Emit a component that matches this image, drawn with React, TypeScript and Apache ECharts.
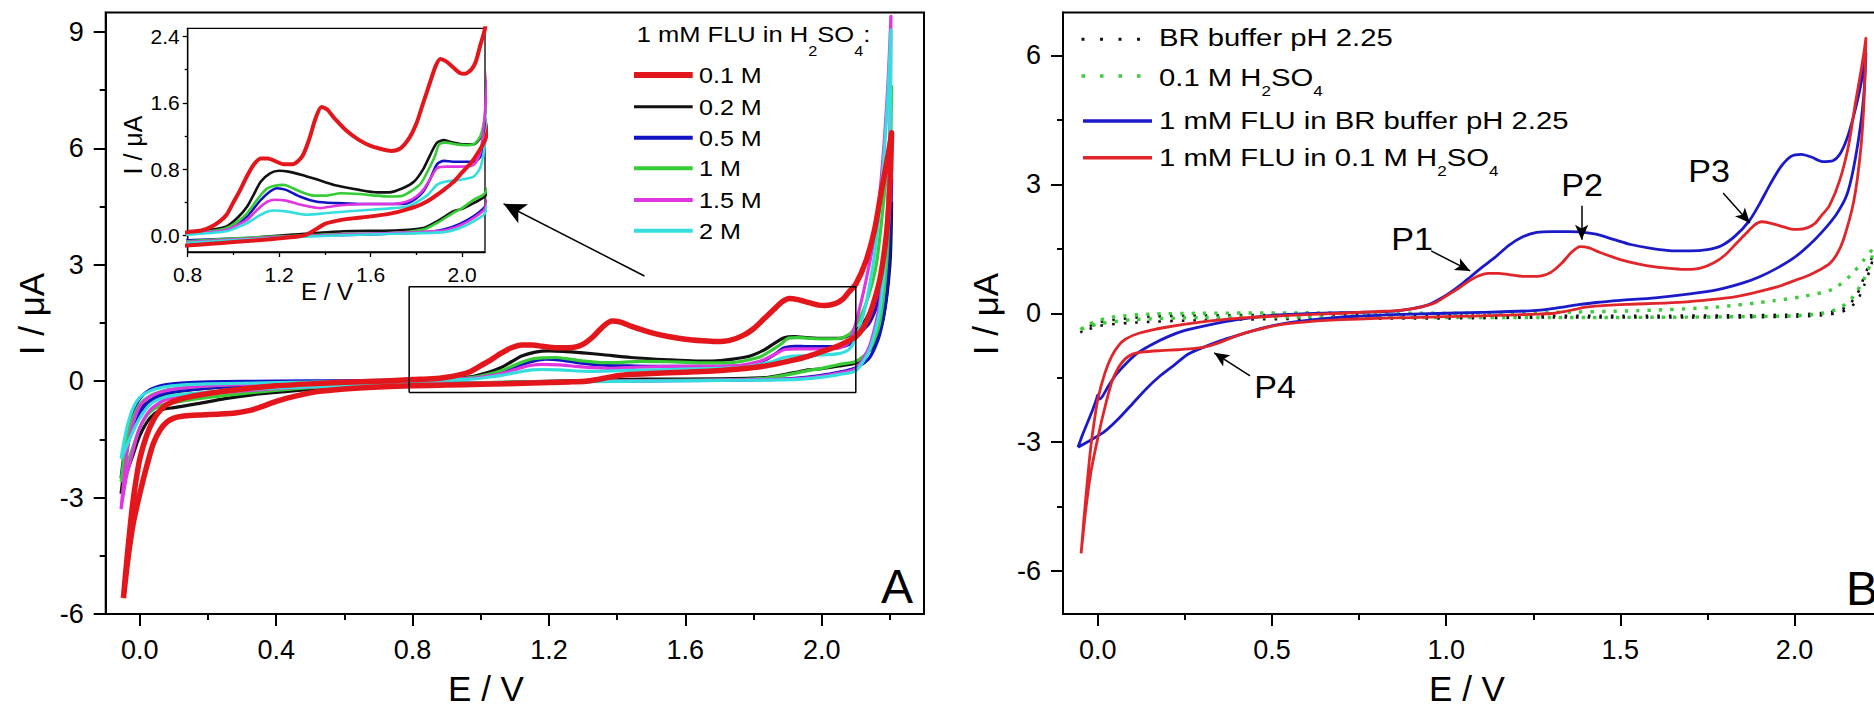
import React, { useEffect, useRef } from "react";
import * as echarts from "echarts";

const FONT = "'Liberation Sans', Arial, Helvetica, sans-serif";

// ---------- tick values ----------
const A_X_MAJOR = [0, 0.4, 0.8, 1.2, 1.6, 2.0];
const A_X_MINOR = [0.2, 0.6, 1.0, 1.4, 1.8, 2.2];
const A_Y_MAJOR = [-6, -3, 0, 3, 6, 9];
const A_Y_MINOR = [-4.5, -1.5, 1.5, 4.5, 7.5];
const IN_X_MAJOR = [0.8, 1.2, 1.6, 2.0];
const IN_X_MINOR = [1.0, 1.4, 1.8];
const IN_Y_MAJOR = [0, 0.8, 1.6, 2.4];
const IN_Y_MINOR = [0.4, 1.2, 2.0];
const B_X_MAJOR = [0, 0.5, 1.0, 1.5, 2.0];
const B_X_MINOR = [0.25, 0.75, 1.25, 1.75, 2.25];
const B_Y_MAJOR = [-6, -3, 0, 3, 6];
const B_Y_MINOR = [-4.5, -1.5, 1.5, 4.5];

// ---------- panel A : 1 mM FLU in H2SO4 of various concentrations ----------
const CONC_LABELS = ["0.1 M", "0.2 M", "0.5 M", "1 M", "1.5 M", "2 M"];
const CONC_COLORS = ["#e3161c", "#111111", "#1212c4", "#35cc35", "#e035e0", "#35dede"];

// 0.1 M (also "1 mM FLU in 0.1 M H2SO4" of panel B)
const RED_FWD = [
  [-0.048, -5.59], [-0.04, -4.8], [-0.03, -3.9], [-0.02, -3.1], [-0.01, -2.5], [0.0, -2.0], [0.02, -1.4],
  [0.04, -1.0], [0.06, -0.75], [0.08, -0.6], [0.12, -0.46], [0.2, -0.32], [0.3, -0.2], [0.4, -0.12],
  [0.5, -0.07], [0.6, -0.03], [0.7, 0.0], [0.8, 0.04], [0.86, 0.06], [0.9, 0.1], [0.94, 0.17], [0.97, 0.25],
  [1.0, 0.4], [1.03, 0.55], [1.06, 0.72], [1.09, 0.86], [1.12, 0.93], [1.15, 0.93], [1.18, 0.9], [1.22, 0.86],
  [1.26, 0.86], [1.3, 0.95], [1.33, 1.15], [1.36, 1.42], [1.385, 1.55], [1.41, 1.52], [1.44, 1.42],
  [1.5, 1.25], [1.55, 1.15], [1.6, 1.08], [1.65, 1.04], [1.69, 1.02], [1.73, 1.05], [1.77, 1.18],
  [1.8, 1.35], [1.83, 1.6], [1.86, 1.85], [1.885, 2.05], [1.905, 2.13], [1.93, 2.1], [1.96, 2.03],
  [1.99, 1.96], [2.01, 1.95], [2.04, 2.0], [2.06, 2.1], [2.08, 2.3], [2.1, 2.5], [2.13, 3.1],
  [2.155, 3.9], [2.175, 4.9], [2.19, 5.6], [2.2, 6.1], [2.205, 6.4],
];
const RED_REV = [
  [2.2, 5.0], [2.19, 3.8], [2.17, 2.6], [2.14, 1.7], [2.12, 1.35], [2.1, 1.15], [2.07, 1.0], [2.04, 0.88],
  [2.0, 0.76], [1.96, 0.64], [1.92, 0.55], [1.88, 0.47], [1.84, 0.4], [1.8, 0.35], [1.74, 0.3], [1.68, 0.26],
  [1.6, 0.23], [1.5, 0.2], [1.44, 0.17], [1.4, 0.14], [1.37, 0.09], [1.34, 0.04], [1.31, 0.0], [1.26, -0.02],
  [1.15, -0.05], [1.0, -0.08], [0.9, -0.1], [0.8, -0.12], [0.7, -0.15], [0.6, -0.2], [0.52, -0.27],
  [0.45, -0.4], [0.4, -0.52], [0.36, -0.65], [0.32, -0.76], [0.28, -0.82], [0.23, -0.85], [0.18, -0.87],
  [0.13, -0.9], [0.1, -0.95], [0.08, -1.05], [0.06, -1.25], [0.04, -1.6], [0.02, -2.2], [0.0, -2.9],
  [-0.02, -3.7], [-0.035, -4.6], [-0.048, -5.59],
];

// 0.2 M
const BLACK_FWD = [
  [-0.055, -2.9], [-0.045, -2.2], [-0.035, -1.6], [-0.02, -1.1], [0.0, -0.75], [0.03, -0.5], [0.07, -0.35],
  [0.12, -0.26], [0.2, -0.18], [0.35, -0.1], [0.5, -0.06], [0.65, -0.03], [0.8, 0.04], [0.9, 0.07],
  [0.97, 0.11], [1.02, 0.22], [1.06, 0.35], [1.09, 0.5], [1.12, 0.65], [1.16, 0.75], [1.2, 0.78],
  [1.24, 0.77], [1.3, 0.73], [1.36, 0.68], [1.44, 0.61], [1.55, 0.55], [1.63, 0.52], [1.68, 0.52],
  [1.74, 0.57], [1.79, 0.65], [1.83, 0.8], [1.86, 0.97], [1.89, 1.12], [1.92, 1.15], [1.96, 1.12],
  [2.0, 1.1], [2.05, 1.1], [2.08, 1.18], [2.1, 1.3], [2.13, 1.6], [2.16, 2.2], [2.18, 3.0], [2.2, 4.0],
  [2.205, 4.6],
];
const BLACK_REV = [
  [2.2, 3.0], [2.18, 1.6], [2.15, 0.9], [2.12, 0.6], [2.1, 0.47], [2.05, 0.39], [2.0, 0.32], [1.96, 0.29],
  [1.92, 0.22], [1.89, 0.17], [1.83, 0.09], [1.7, 0.06], [1.48, 0.05], [1.26, 0.01], [1.12, -0.02],
  [0.97, -0.06], [0.8, -0.09], [0.6, -0.15], [0.45, -0.25], [0.35, -0.33], [0.25, -0.45], [0.17, -0.58],
  [0.1, -0.68], [0.06, -0.75], [0.03, -0.95], [0.0, -1.4], [-0.02, -1.9], [-0.04, -2.4], [-0.055, -2.9],
];

// 0.5 M
const BLUE_FWD = [
  [-0.055, -2.5], [-0.045, -1.8], [-0.035, -1.3], [-0.02, -0.8], [0.0, -0.45], [0.03, -0.22], [0.07, -0.1],
  [0.12, -0.05], [0.2, -0.02], [0.4, 0.0], [0.6, 0.01], [0.8, 0.03], [0.9, 0.05], [0.97, 0.08],
  [1.02, 0.15], [1.06, 0.23], [1.09, 0.33], [1.12, 0.43], [1.16, 0.53], [1.19, 0.57], [1.23, 0.55],
  [1.29, 0.47], [1.36, 0.41], [1.45, 0.39], [1.55, 0.38], [1.7, 0.38], [1.76, 0.39], [1.8, 0.45],
  [1.83, 0.53], [1.86, 0.68], [1.89, 0.86], [1.92, 0.9], [1.96, 0.89], [2.0, 0.89], [2.05, 0.89],
  [2.08, 0.95], [2.1, 1.15], [2.14, 1.5], [2.17, 2.2], [2.19, 3.2], [2.2, 4.2], [2.205, 5.2],
];
const BLUE_REV = [
  [2.2, 3.5], [2.19, 2.2], [2.17, 1.2], [2.14, 0.6], [2.1, 0.35], [2.05, 0.23], [1.99, 0.14], [1.92, 0.07],
  [1.85, 0.04], [1.55, 0.01], [1.26, -0.01], [0.8, -0.06], [0.6, -0.08], [0.4, -0.1], [0.25, -0.15],
  [0.15, -0.22], [0.08, -0.3], [0.04, -0.45], [0.0, -0.8], [-0.02, -1.2], [-0.04, -1.8], [-0.055, -2.5],
];

// 1 M
const GREEN_FWD = [
  [-0.055, -2.6], [-0.045, -1.9], [-0.035, -1.4], [-0.02, -0.95], [0.0, -0.6], [0.03, -0.38], [0.07, -0.25],
  [0.12, -0.18], [0.2, -0.12], [0.35, -0.07], [0.5, -0.04], [0.65, -0.01], [0.8, 0.03], [0.9, 0.05],
  [0.97, 0.09], [1.02, 0.17], [1.06, 0.27], [1.09, 0.38], [1.12, 0.49], [1.15, 0.57], [1.18, 0.6],
  [1.22, 0.61], [1.26, 0.57], [1.3, 0.52], [1.35, 0.48], [1.4, 0.48], [1.47, 0.51], [1.55, 0.5],
  [1.62, 0.48], [1.68, 0.47], [1.74, 0.48], [1.78, 0.54], [1.82, 0.63], [1.85, 0.78], [1.88, 0.95],
  [1.9, 1.1], [1.93, 1.12], [1.97, 1.1], [2.01, 1.09], [2.05, 1.1], [2.08, 1.2], [2.1, 1.43],
  [2.13, 2.0], [2.16, 3.0], [2.18, 4.5], [2.2, 6.3], [2.205, 7.6],
];
const GREEN_REV = [
  [2.2, 5.0], [2.19, 3.0], [2.17, 1.5], [2.14, 0.8], [2.1, 0.51], [2.05, 0.43], [2.0, 0.33], [1.96, 0.27],
  [1.89, 0.15], [1.83, 0.07], [1.7, 0.03], [1.41, 0.01], [1.12, -0.02], [0.8, -0.07], [0.6, -0.12],
  [0.45, -0.2], [0.3, -0.32], [0.2, -0.42], [0.12, -0.52], [0.07, -0.6], [0.03, -0.8], [0.0, -1.2],
  [-0.02, -1.7], [-0.04, -2.2], [-0.055, -2.6],
];

// 1.5 M
const MAG_FWD = [
  [-0.055, -3.3], [-0.045, -2.4], [-0.035, -1.7], [-0.02, -1.1], [0.0, -0.65], [0.03, -0.4], [0.07, -0.26],
  [0.12, -0.18], [0.2, -0.12], [0.35, -0.07], [0.5, -0.04], [0.65, -0.01], [0.8, 0.02], [0.9, 0.04],
  [0.97, 0.07], [1.02, 0.13], [1.06, 0.19], [1.09, 0.27], [1.12, 0.35], [1.15, 0.41], [1.18, 0.43],
  [1.23, 0.42], [1.28, 0.38], [1.33, 0.35], [1.38, 0.33], [1.43, 0.35], [1.5, 0.37], [1.58, 0.38],
  [1.7, 0.38], [1.76, 0.41], [1.8, 0.47], [1.83, 0.55], [1.86, 0.68], [1.89, 0.81], [1.93, 0.83],
  [1.99, 0.83], [2.05, 0.85], [2.08, 1.0], [2.1, 1.5], [2.13, 2.6], [2.16, 4.0], [2.18, 5.8],
  [2.195, 7.8], [2.203, 9.4],
];
const MAG_REV = [
  [2.2, 6.5], [2.19, 4.0], [2.17, 2.0], [2.14, 0.9], [2.1, 0.33], [2.05, 0.21], [1.99, 0.12], [1.92, 0.06],
  [1.7, 0.03], [1.26, -0.01], [0.8, -0.08], [0.6, -0.12], [0.45, -0.17], [0.3, -0.25], [0.2, -0.32],
  [0.12, -0.4], [0.07, -0.5], [0.03, -0.75], [0.0, -1.2], [-0.02, -1.8], [-0.04, -2.5], [-0.055, -3.3],
];

// 2 M
const CYAN_FWD = [
  [-0.055, -2.0], [-0.045, -1.5], [-0.035, -1.1], [-0.02, -0.7], [0.0, -0.42], [0.03, -0.25], [0.07, -0.15],
  [0.12, -0.1], [0.2, -0.07], [0.4, -0.04], [0.6, -0.01], [0.8, 0.01], [0.9, 0.03], [0.97, 0.05],
  [1.02, 0.1], [1.06, 0.15], [1.09, 0.2], [1.12, 0.25], [1.15, 0.29], [1.18, 0.3], [1.23, 0.29],
  [1.32, 0.25], [1.41, 0.27], [1.55, 0.3], [1.7, 0.33], [1.76, 0.35], [1.8, 0.4], [1.85, 0.49],
  [1.89, 0.61], [1.93, 0.65], [1.99, 0.67], [2.05, 0.71], [2.08, 0.82], [2.1, 1.11], [2.13, 2.0],
  [2.16, 3.6], [2.18, 5.5], [2.195, 7.5], [2.203, 9.05],
];
const CYAN_REV = [
  [2.2, 6.0], [2.19, 3.6], [2.17, 1.8], [2.14, 0.8], [2.1, 0.27], [2.05, 0.17], [1.99, 0.09], [1.92, 0.04],
  [1.7, 0.02], [1.26, -0.02], [0.8, -0.09], [0.6, -0.12], [0.45, -0.16], [0.3, -0.22], [0.2, -0.28],
  [0.12, -0.34], [0.07, -0.42], [0.03, -0.6], [0.0, -0.95], [-0.02, -1.3], [-0.04, -1.7], [-0.055, -2.0],
];

// zoom frame of panel A
const ZOOM_RECT = [[0.79, -0.29], [2.1, -0.29], [2.1, 2.43], [0.79, 2.43], [0.79, -0.29]];
const ARROW_A = [[1.48, 2.71], [1.067, 4.57]];

// ---------- panel B ----------
const B_LABELS = ["BR buffer pH 2.25", "0.1 M H2SO4", "1 mM FLU in BR buffer pH 2.25", "1 mM FLU in 0.1 M H2SO4"];
const B_COLORS = ["#111111", "#3dcc3d", "#1a1ac8", "#e0262a"];

const BR_FWD = [
  [-0.05, -0.45], [-0.03, -0.33], [0.0, -0.22], [0.05, -0.15], [0.15, -0.08], [0.3, -0.05], [0.6, -0.04],
  [1.0, -0.05], [1.5, -0.06], [1.8, -0.05], [2.0, -0.03], [2.1, 0.02], [2.15, 0.15], [2.18, 0.45],
  [2.2, 0.85], [2.225, 1.35],
];
const BR_REV = [
  [2.22, 1.1], [2.2, 0.65], [2.18, 0.3], [2.15, 0.08], [2.1, -0.03], [2.0, -0.08], [1.7, -0.1], [1.3, -0.1],
  [1.0, -0.12], [0.6, -0.13], [0.3, -0.16], [0.1, -0.22], [0.0, -0.3], [-0.05, -0.45],
];
const H2SO4_FWD = [
  [-0.05, -0.38], [-0.03, -0.27], [0.0, -0.17], [0.05, -0.08], [0.15, -0.02], [0.3, 0.0], [0.6, 0.01],
  [1.0, 0.0], [1.3, 0.02], [1.55, 0.06], [1.77, 0.14], [1.94, 0.29], [2.03, 0.4], [2.11, 0.56],
  [2.16, 0.87], [2.2, 1.25], [2.225, 1.5],
];
const H2SO4_REV = [
  [2.22, 1.2], [2.2, 0.8], [2.17, 0.4], [2.13, 0.12], [2.08, 0.0], [2.0, -0.06], [1.7, -0.09], [1.3, -0.1],
  [1.0, -0.1], [0.6, -0.09], [0.3, -0.1], [0.1, -0.15], [0.0, -0.25], [-0.05, -0.38],
];
const FLU_BR_FWD = [
  [-0.057, -3.12], [-0.045, -2.85], [-0.03, -2.55], [-0.015, -2.25], [-0.004, -2.0], [0.0, -1.9],
  [0.004, -2.0], [0.012, -1.95], [0.03, -1.7], [0.05, -1.45], [0.08, -1.18], [0.11, -0.95], [0.15, -0.75],
  [0.2, -0.55], [0.25, -0.4], [0.32, -0.27], [0.4, -0.15], [0.5, -0.05], [0.6, -0.01], [0.74, 0.02],
  [0.85, 0.05], [0.9, 0.1], [0.95, 0.2], [1.0, 0.42], [1.04, 0.65], [1.07, 0.85], [1.1, 1.05], [1.14, 1.3],
  [1.18, 1.58], [1.22, 1.78], [1.26, 1.88], [1.3, 1.9], [1.35, 1.9], [1.39, 1.89], [1.43, 1.84],
  [1.48, 1.72], [1.53, 1.6], [1.58, 1.52], [1.64, 1.46], [1.7, 1.45], [1.75, 1.48], [1.79, 1.57],
  [1.83, 1.8], [1.87, 2.15], [1.9, 2.55], [1.93, 3.0], [1.96, 3.4], [1.99, 3.65], [2.02, 3.7], [2.05, 3.63],
  [2.08, 3.53], [2.11, 3.55], [2.13, 3.7], [2.15, 4.05], [2.17, 4.6], [2.19, 5.3], [2.205, 6.05],
];
const FLU_BR_REV = [
  [2.2, 5.2], [2.19, 4.4], [2.17, 3.4], [2.15, 2.75], [2.12, 2.3], [2.08, 1.9], [2.04, 1.57], [2.0, 1.3],
  [1.95, 1.05], [1.9, 0.85], [1.85, 0.7], [1.78, 0.55], [1.7, 0.45], [1.6, 0.36], [1.5, 0.3], [1.43, 0.25],
  [1.38, 0.2], [1.34, 0.15], [1.3, 0.1], [1.25, 0.06], [1.1, 0.02], [0.9, -0.02], [0.74, -0.07],
  [0.62, -0.15], [0.55, -0.22], [0.48, -0.33], [0.42, -0.47], [0.36, -0.62], [0.31, -0.77], [0.26, -0.95],
  [0.22, -1.2], [0.18, -1.45], [0.14, -1.75], [0.1, -2.1], [0.06, -2.45], [0.02, -2.75], [-0.02, -2.95],
  [-0.057, -3.12],
];

const PEAK_LABELS = ["P1", "P2", "P3", "P4"];
const PEAK_ARROWS = [
  [[0.957, 1.45], [1.069, 0.985]],
  [[1.389, 2.5], [1.389, 1.71]],
  [[1.795, 2.8], [1.872, 2.1]],
  [[0.437, -1.46], [0.334, -0.92]],
];

// ---------- helpers ----------
const fmt1 = (v: number) => v.toFixed(1);
const fmt0 = (v: number) => String(v);

function majorAxis(gridIndex: number, min: number, max: number, position: string, ticks: number[],
  formatter: (v: number) => string, fontSize: number, margin: number, tickLen: number, lw: number) {
  return {
    gridIndex, type: "value", min, max, position,
    axisLine: { show: true, onZero: false, lineStyle: { color: "#000", width: lw } },
    axisTick: { show: true, inside: false, length: tickLen, customValues: ticks, lineStyle: { color: "#000", width: lw } },
    axisLabel: { show: true, customValues: ticks, formatter, fontSize, margin, color: "#000", fontFamily: FONT },
    splitLine: { show: false },
    minorTick: { show: false },
  };
}
function minorAxis(gridIndex: number, min: number, max: number, position: string, ticks: number[], tickLen: number, lw: number) {
  return {
    gridIndex, type: "value", min, max, position,
    axisLine: { show: false, onZero: false },
    axisTick: { show: true, inside: false, length: tickLen, customValues: ticks, lineStyle: { color: "#000", width: lw } },
    axisLabel: { show: false },
    splitLine: { show: false },
  };
}
function curve(name: string, data: number[][], color: string, width: number, xi: number, z = 2, type: any = "solid") {
  return {
    name, type: "line", xAxisIndex: xi, yAxisIndex: xi, data, showSymbol: false, symbol: "none",
    smooth: 0.25, clip: true, z, silent: true,
    lineStyle: { color, width, type, cap: "butt", join: "round" },
    emphasis: { disabled: true },
  };
}
function txt(x: number, y: number, text: string, fontSize: number, extra: any = {}, styleExtra: any = {}) {
  return {
    type: "text", x, y, silent: true, z: 100, ...extra,
    style: { text, fontSize, fontFamily: FONT, fill: "#000", align: "left", verticalAlign: "middle", ...styleExtra },
  };
}
function seg(x1: number, y1: number, x2: number, y2: number, stroke: string, lineWidth: number, lineDash?: number[]) {
  return {
    type: "line", silent: true, z: 100,
    shape: { x1, y1, x2, y2 },
    style: { stroke, lineWidth, lineDash, lineCap: "butt" },
  };
}

function buildOption() {
  const aData = [
    [RED_FWD, RED_REV], [BLACK_FWD, BLACK_REV], [BLUE_FWD, BLUE_REV],
    [GREEN_FWD, GREEN_REV], [MAG_FWD, MAG_REV], [CYAN_FWD, CYAN_REV],
  ];
  const drawOrder = [1, 2, 3, 4, 5, 0];
  const series: any[] = [];
  // main panel A
  drawOrder.forEach((i) => {
    series.push(curve(CONC_LABELS[i], aData[i][0].concat(aData[i][1]), CONC_COLORS[i], i === 0 ? 5.5 : 3.2, 0, i === 0 ? 4 : 3));
  });
  series.push({
    name: "zoom", type: "line", xAxisIndex: 0, yAxisIndex: 0, data: ZOOM_RECT, showSymbol: false, symbol: "none",
    silent: true, z: 5, lineStyle: { color: "#000", width: 1.5 }, emphasis: { disabled: true },
    markLine: {
      silent: true, symbol: ["none", "arrow"], symbolSize: [16, 22], animation: false,
      label: { show: false }, emphasis: { disabled: true },
      lineStyle: { color: "#000", width: 1.5, type: "solid" },
      data: [[{ coord: ARROW_A[0] }, { coord: ARROW_A[1] }]],
    },
  });
  // inset
  drawOrder.forEach((i) => {
    series.push(curve(CONC_LABELS[i] + " inset", aData[i][0].concat(aData[i][1]), CONC_COLORS[i], i === 0 ? 4 : 2.6, 2, 20));
  });
  // panel B
  series.push(curve(B_LABELS[0], BR_FWD.concat(BR_REV), B_COLORS[0], 2.6, 4, 2, [2.6, 9]));
  series.push(curve(B_LABELS[1], H2SO4_FWD.concat(H2SO4_REV), B_COLORS[1], 3.4, 4, 2, [3.4, 8]));
  series.push(curve(B_LABELS[2], FLU_BR_FWD.concat(FLU_BR_REV), B_COLORS[2], 2.8, 4, 3));
  series.push(curve(B_LABELS[3], RED_FWD.concat(RED_REV), B_COLORS[3], 2.8, 4, 4));
  series.push({
    name: "arrows", type: "line", xAxisIndex: 4, yAxisIndex: 4, data: [], silent: true, z: 6,
    markLine: {
      silent: true, symbol: ["none", "arrow"], symbolSize: [10, 15], animation: false,
      label: { show: false }, emphasis: { disabled: true },
      lineStyle: { color: "#000", width: 1.5, type: "solid" },
      data: PEAK_ARROWS.map((a) => [{ coord: a[0] }, { coord: a[1] }]),
    },
  });

  const sub = { fontSize: 14, lineHeight: 12, verticalAlign: "bottom", fontFamily: FONT, fill: "#000" };
  const legendAY = [75, 106.7, 137.7, 168.3, 200, 230.7];
  const legendAW = [6, 3, 4, 4, 4, 4];
  const graphic: any[] = [];
  // panel A titles
  graphic.push(txt(31, 314, "I / \u03bcA", 35, { rotation: Math.PI / 2 }, { align: "center" }));
  graphic.push(txt(486, 688, "E / V", 35, {}, { align: "center" }));
  graphic.push(txt(133, 145, "I / \u03bcA", 25, { rotation: Math.PI / 2 }, { align: "center" }));
  graphic.push(txt(327, 291, "E / V", 24, {}, { align: "center" }));
  graphic.push(txt(881, 586, "A", 48));
  // legend A
  graphic.push(txt(636.7, 34.5, "1 mM FLU in H{s|2}SO{s|4}:", 22, { scaleX: 1.16 }, { lineHeight: 46, rich: { s: sub } }));
  CONC_LABELS.forEach((lab, i) => {
    graphic.push(seg(634, legendAY[i], 692.7, legendAY[i], CONC_COLORS[i], legendAW[i]));
    graphic.push(txt(699, legendAY[i] + 0.5, lab, 22, { scaleX: 1.14 }));
  });
  // panel B titles
  graphic.push(txt(985, 314, "I / \u03bcA", 35, { rotation: Math.PI / 2 }, { align: "center" }));
  graphic.push(txt(1467, 688, "E / V", 35, {}, { align: "center" }));
  graphic.push(txt(1846, 588, "B", 48));
  // legend B
  graphic.push(seg(1081.5, 39.3, 1141, 39.3, B_COLORS[0], 3, [3, 15.5]));
  graphic.push(seg(1081.5, 76, 1141, 76, B_COLORS[1], 3.5, [3.5, 15]));
  graphic.push(seg(1083, 121, 1152, 121, B_COLORS[2], 3.5));
  graphic.push(seg(1083, 157.7, 1152, 157.7, B_COLORS[3], 3.5));
  graphic.push(txt(1159, 38.3, B_LABELS[0], 24, { scaleX: 1.22 }));
  graphic.push(txt(1159, 78, "0.1 M H{s|2}SO{s|4}", 24, { scaleX: 1.22 }, { lineHeight: 40, rich: { s: sub } }));
  graphic.push(txt(1159, 121, B_LABELS[2], 24, { scaleX: 1.22 }));
  graphic.push(txt(1159, 158, "1 mM FLU in 0.1 M H{s|2}SO{s|4}", 24, { scaleX: 1.22 }, { lineHeight: 40, rich: { s: sub } }));
  // peak labels
  const peakPos = [[1412, 240], [1582, 186], [1709, 172], [1275, 388]];
  PEAK_LABELS.forEach((p, i) => {
    graphic.push(txt(peakPos[i][0], peakPos[i][1], p, 31, { scaleX: 1.1 }, { align: "center" }));
  });

  return {
    animation: false,
    backgroundColor: "#ffffff",
    grid: [
      { left: 105.7, top: 12.5, width: 818.3, height: 601.5, show: true, borderColor: "#000", borderWidth: 2, backgroundColor: "transparent", outerBoundsMode: "none", containLabel: false },
      { left: 187.7, top: 28.3, width: 297.3, height: 223.7, show: true, borderColor: "#000", borderWidth: 1.3, backgroundColor: "#fff", outerBoundsMode: "none", containLabel: false, z: 10 },
      { left: 1063, top: 12.5, width: 836, height: 601.5, show: true, borderColor: "#000", borderWidth: 2, backgroundColor: "transparent", outerBoundsMode: "none", containLabel: false },
    ],
    xAxis: [
      majorAxis(0, -0.1, 2.3, "bottom", A_X_MAJOR, fmt1, 27, 22, 12, 2),
      minorAxis(0, -0.1, 2.3, "bottom", A_X_MINOR, 6, 2),
      { ...majorAxis(1, 0.8, 2.1, "bottom", IN_X_MAJOR, fmt1, 21, 12, 5, 1.3), z: 12 },
      { ...minorAxis(1, 0.8, 2.1, "bottom", IN_X_MINOR, 3, 1.3), z: 12 },
      majorAxis(2, -0.1, 2.3, "bottom", B_X_MAJOR, fmt1, 27, 22, 12, 2),
      minorAxis(2, -0.1, 2.3, "bottom", B_X_MINOR, 6, 2),
    ],
    yAxis: [
      majorAxis(0, -6, 9.5, "left", A_Y_MAJOR, fmt0, 27, 22, 12, 2),
      minorAxis(0, -6, 9.5, "left", A_Y_MINOR, 6, 2),
      { ...majorAxis(1, -0.2, 2.5, "left", IN_Y_MAJOR, fmt1, 21, 8, 5, 1.3), z: 12 },
      { ...minorAxis(1, -0.2, 2.5, "left", IN_Y_MINOR, 3, 1.3), z: 12 },
      majorAxis(2, -7, 7, "left", B_Y_MAJOR, fmt0, 27, 22, 12, 2),
      minorAxis(2, -7, 7, "left", B_Y_MINOR, 6, 2),
    ],
    series,
    graphic: { elements: graphic },
  };
}

export default function App() {
  const ref = useRef<HTMLDivElement>(null);
  useEffect(() => {
    const el = ref.current as HTMLDivElement;
    const chart = echarts.init(el, undefined, { renderer: "svg", width: 1874, height: 710 });
    chart.setOption(buildOption() as any);
    return () => chart.dispose();
  }, []);
  return (
    <div
      ref={ref}
      style={{ position: "fixed", left: 0, top: 0, width: 1874, height: 710, background: "#fff", overflow: "hidden" }}
    />
  );
}
